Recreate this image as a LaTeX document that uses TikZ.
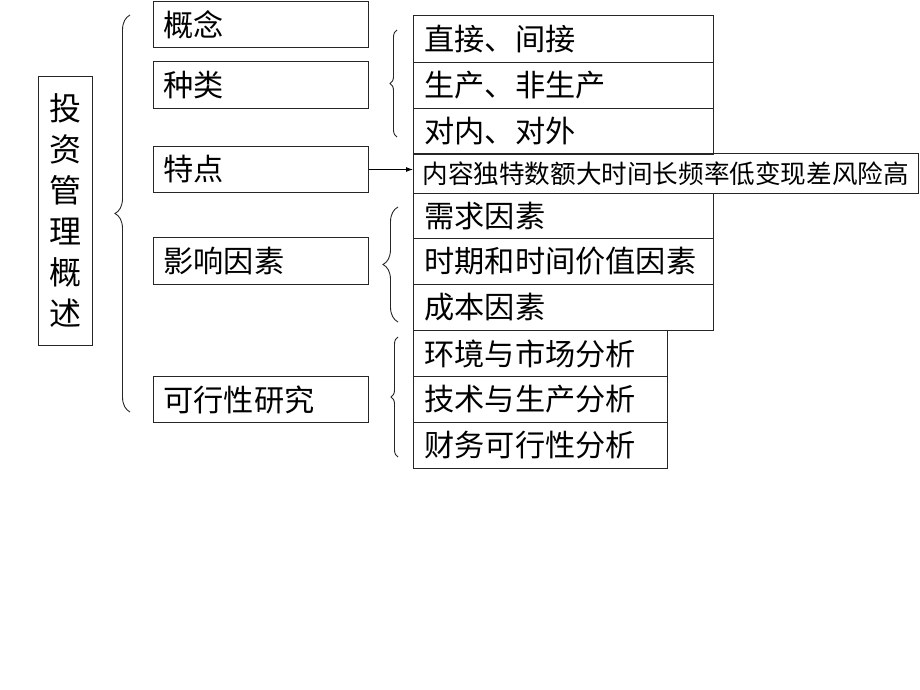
\documentclass[tikz,border=0pt]{standalone}
\usepackage{fontspec}
\newfontfamily\cjk{Noto Sans CJK SC}
\usetikzlibrary{decorations.pathreplacing,arrows.meta}
\begin{document}
\begin{tikzpicture}[x=1pt,y=-1pt,
  bx/.style={draw=black!85, line width=1pt, inner xsep=10pt, inner ysep=0pt,
    anchor=north west, align=left, font=\cjk\fontsize{30.2}{34}\selectfont},
  lbox/.style={bx, text width=195pt},
  rbox/.style={bx, inner xsep=11pt, text width=278pt},
  sbox/.style={bx, inner xsep=11pt, text width=232pt},
  brc/.style={draw=black!85, line width=0.9pt, decorate,
    decoration={brace, amplitude=#1}},
  conn/.style={draw=black, line width=0.9pt, -{Latex[length=7pt,width=5pt]}}
]
\fill[white] (0,0) rectangle (920,690);
\useasboundingbox (0,0) rectangle (920,690);

% main box
\node[draw=black!85, line width=1pt, anchor=north west, minimum width=54pt,
  minimum height=269pt, inner sep=0pt, align=center,
  font=\cjk\fontsize{32}{41}\selectfont] (main) at (38,76)
  {投\\资\\管\\理\\概\\述};

% left column
\node[lbox, minimum height=46pt] (gn) at (153,1) {概念};
\node[lbox, minimum height=47pt] (zl) at (153,61) {种类};
\node[lbox, minimum height=46pt] (td) at (153,146) {特点};
\node[lbox, minimum height=47pt] (yx) at (153,237) {影响因素};
\node[lbox, minimum height=46pt] (kx) at (153,376) {可行性研究};

% right group 1
\node[rbox, minimum height=47pt] (r1) at (413,15) {直接、间接};
\node[rbox, minimum height=46pt] (r2) at (413,62) {生产、非生产};
\node[rbox, minimum height=46pt] (r3) at (413,108) {对内、对外};

% special box
\node[bx, inner xsep=9pt, text width=487pt, minimum height=40pt,
  font=\cjk\fontsize{25.6}{30}\selectfont] (sp) at (413,153)
  {\mbox{内容独特数额大时间长频率低变现差风险高}};

% right group 2
\node[rbox, minimum height=45pt] (r4) at (413,193) {需求因素};
\node[rbox, minimum height=46pt] (r5) at (413,238) {时期和时间价值因素};
\node[rbox, minimum height=46pt] (r6) at (413,284) {成本因素};

% right group 3
\node[sbox, minimum height=46pt] (r7) at (413,330) {环境与市场分析};
\node[sbox, minimum height=46pt] (r8) at (413,376) {技术与生产分析};
\node[sbox, minimum height=46pt] (r9) at (413,422) {财务可行性分析};

% arrow
\draw[conn] (td.east) -- (td.east -| sp.west);

% braces
\coordinate (b0a) at (130,412); \coordinate (b0b) at (130,15);
\coordinate (b1a) at (397,137); \coordinate (b1b) at (397,30);
\coordinate (b2a) at (398,322); \coordinate (b2b) at (398,207);
\coordinate (b3a) at (398,457); \coordinate (b3b) at (398,337);
\draw[brc=15pt] (b0a) -- (b0b);
\draw[brc=7pt] (b1a) -- (b1b);
\draw[brc=15pt] (b2a) -- (b2b);
\draw[brc=7pt] (b3a) -- (b3b);
\end{tikzpicture}
\end{document}
